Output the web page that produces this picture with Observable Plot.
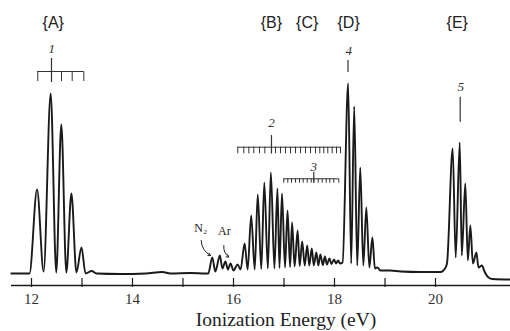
<!DOCTYPE html>
<html>
<head>
<meta charset="utf-8">
<script src="https://cdn.jsdelivr.net/npm/d3@7"></script>
<script src="https://cdn.jsdelivr.net/npm/@observablehq/plot@0.6"></script>
<style>
  html, body { margin: 0; padding: 0; background: #fff; }
  #chart svg { display: block; }
</style>
</head>
<body>
<div id="chart"></div>
<script>
// ---- Spectrum (ionization energy in eV, relative intensity) ----
const energy = [
  11.60, 11.96, 12.11, 12.24, 12.38, 12.49, 12.59, 12.69, 12.79, 12.89,
  12.99, 13.07, 13.19, 13.29, 13.76, 14.26, 14.59, 14.75, 15.15, 15.45,
  15.50, 15.58, 15.64, 15.73, 15.78, 15.84, 15.89, 15.94, 16.00, 16.08,
  16.14, 16.22, 16.28, 16.35, 16.42, 16.48, 16.55, 16.61, 16.68, 16.74,
  16.81, 16.87, 16.91, 16.96, 17.02, 17.07, 17.12, 17.16, 17.21, 17.27,
  17.31, 17.36, 17.41, 17.46, 17.50, 17.55, 17.59, 17.64, 17.68, 17.72,
  17.77, 17.81, 17.85, 17.90, 17.94, 17.99, 18.03, 18.07, 18.11, 18.16,
  18.27, 18.33, 18.39, 18.45, 18.51, 18.57, 18.63, 18.69, 18.75, 18.80,
  18.85, 18.91, 19.11, 19.31, 19.70, 20.10, 20.20, 20.23, 20.34, 20.40,
  20.48, 20.52, 20.59, 20.64, 20.69, 20.74, 20.81, 20.85, 20.92, 20.97,
  21.05, 21.13, 21.48
];
const intensity = [
  6, 6, 48, 7, 96, 6.5, 80.5, 6.5, 46, 6.5,
  19, 6, 7.25, 6, 5.75, 6, 6.75, 6, 6.25, 6,
  6, 14, 7, 15, 8.5, 12, 8, 11, 7.5, 10.5,
  8, 21, 8, 35, 8, 45.5, 8.25, 51.5, 8.5, 56.5,
  8.5, 48.5, 8.75, 46, 9, 37.5, 9.25, 31.5, 9.5, 27.5,
  9.75, 22, 10, 20, 10, 18.5, 10, 16.5, 10, 15.5,
  10.25, 14.5, 10.5, 13.5, 10.75, 13, 11, 12.5, 11, 11.5,
  101, 11, 89.5, 10, 59, 10, 39, 9, 24, 8.5,
  9, 7.5, 7.5, 7, 6.75, 6.75, 9, 11.5, 68.5, 14,
  71.5, 15, 51, 12.5, 30, 11, 16.5, 9, 10, 7,
  4, 3.25, 3
];

// ---- Axis ----
const xDomain = [11.604, 21.485];
const majorTicks = [12, 14, 16, 18, 20];
const allTicks = [12, 13, 14, 15, 16, 17, 18, 19, 20];
const axisTitle = "Ionization Energy (eV)";

// ---- Band labels ----
const bandLabels = ["{A}", "{B}", "{C}", "{D}", "{E}"];
const bandX = [12.43, 16.75, 17.46, 18.28, 20.43];
const bandLevel = 131.5;

// ---- Progression labels and combs ----
const progLabels = ["1", "2", "3", "4", "5"];
const progX = [12.40, 16.75, 17.59, 18.28, 20.50];
const progY = [118.5, 81.25, 59.25, 117.5, 99.5];

const comb1 = [12.125, 12.396, 12.594, 12.806, 13.036];
const comb2 = [16.085, 16.204, 16.303, 16.402, 16.515, 16.620, 16.752, 16.832, 16.931,
  17.030, 17.129, 17.228, 17.327, 17.426, 17.525, 17.624, 17.709, 17.788, 17.867,
  17.954, 18.040, 18.119];
const comb3 = [16.996, 17.075, 17.149, 17.228, 17.307, 17.380, 17.459, 17.539, 17.590,
  17.677, 17.756, 17.836, 17.907, 17.986, 18.085];
const combs = [comb1, comb2, comb3];
const combMain = [12.396, 16.752, 17.590];
const combBar = [107, 69.15, 53.35];
const combTickDrop = [5, 3.3, 2.2];
const combMainTop = [113.5, 75, 56.5];
const combMainBottom = [101.5, 65.85, 51.15];

// single markers for 4 and 5
const markerX = [18.267, 20.489];
const markerTop = [112.5, 94.15];
const markerBottom = [106.5, 81.65];

// ---- Impurity labels ----
const impLabels = ["N₂", "Ar"];
const impX = [15.35, 15.82];
const impY = [28.75, 27];
const impArrowFrom = [[15.36, 22.5], [15.808, 20]];
const impArrowTo = [[15.545, 15], [15.907, 14.2]];

// build tables
const spectrum = energy.map((e, i) => ({e, v: intensity[i]}));
const combTicks = combs.flatMap((c, k) => c.map(e => ({e, y1: combBar[k] - combTickDrop[k], y2: combBar[k]})));
const combBars = combs.map((c, k) => ({x1: d3.min(c), x2: d3.max(c), y: combBar[k]}));
const combStems = combMain.map((e, k) => ({e, y1: combMainBottom[k], y2: combMainTop[k]}))
  .concat(markerX.map((e, k) => ({e, y1: markerBottom[k], y2: markerTop[k]})));
const bands = bandLabels.map((t, i) => ({t, e: bandX[i], y: bandLevel}));
const progs = progLabels.map((t, i) => ({t, e: progX[i], y: progY[i]}));
const imps = impLabels.map((t, i) => ({t, e: impX[i], y: impY[i]}));
const arrows = impArrowFrom.map((f, i) => ({x1: f[0], y1: f[1], x2: impArrowTo[i][0], y2: impArrowTo[i][1]}));

const ink = "#1a1a1a";

const chart = Plot.plot({
  width: 510,
  height: 331,
  marginLeft: 11,
  marginRight: 0,
  marginTop: 0,
  marginBottom: 46,
  style: {background: "#fff"},
  x: {domain: xDomain},
  y: {domain: [0, 142.5], axis: null},
  marks: [
    Plot.ruleY([0], {stroke: ink, strokeWidth: 1.6}),
    Plot.ruleX(allTicks, {x: d => d, y1: -1, y2: 3.5, stroke: ink, strokeWidth: 1.2}),
    Plot.axisX({ticks: majorTicks, tickSize: 0, tickPadding: 8, fontSize: 15,
      fontFamily: "Liberation Serif, serif", tickFormat: d => String(d), label: null, color: "#333"}),
    Plot.text([axisTitle], {frameAnchor: "bottom", dx: 25, dy: 34, lineAnchor: "middle",
      fontSize: 19.5, fontFamily: "Liberation Serif, serif", fill: "#222"}),
    Plot.line(spectrum, {x: "e", y: "v", stroke: ink, strokeWidth: 1.9, curve: "monotone-x"}),
    Plot.text(bands, {x: "e", y: "y", text: "t", fontSize: 16, fontFamily: "Liberation Sans, Arial, sans-serif", fill: "#222"}),
    Plot.text(progs, {x: "e", y: "y", text: "t", fontSize: 13, fontStyle: "italic", fontFamily: "Liberation Serif, serif", fill: "#333"}),
    Plot.ruleX(combTicks, {x: "e", y1: "y1", y2: "y2", stroke: "#333", strokeWidth: 1}),
    Plot.ruleY(combBars, {x1: "x1", x2: "x2", y: "y", stroke: "#333", strokeWidth: 1}),
    Plot.ruleX(combStems, {x: "e", y1: "y1", y2: "y2", stroke: "#333", strokeWidth: 1.2}),
    Plot.text(imps, {x: "e", y: "y", text: "t", fontSize: 12, fontFamily: "Liberation Serif, serif", fill: "#222"}),
    Plot.arrow(arrows, {x1: "x1", y1: "y1", x2: "x2", y2: "y2", bend: -30, headLength: 4, stroke: "#222", strokeWidth: 1})
  ]
});
document.getElementById("chart").appendChild(chart);
</script>
</body>
</html>
